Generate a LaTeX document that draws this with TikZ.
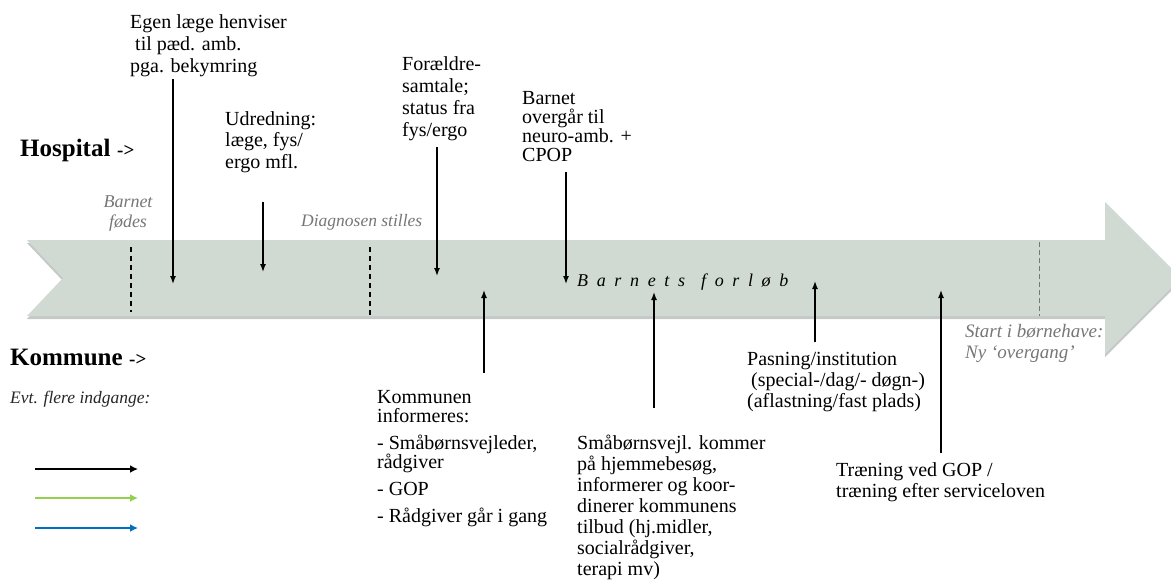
\documentclass[tikz,border=0pt]{standalone}
\usepackage{fontspec}
\setmainfont{Liberation Serif}
\usetikzlibrary{arrows.meta}
\definecolor{bandfill}{RGB}{208,218,210}
\definecolor{bandshadow}{RGB}{150,156,152}
\definecolor{graytext}{RGB}{118,118,118}
\definecolor{legendgreen}{RGB}{146,208,80}
\definecolor{legendblue}{RGB}{0,112,192}
\begin{document}
\begin{tikzpicture}[x=1pt,y=-1pt,
  txt/.style={anchor=base west, inner sep=0pt, align=left, font=\fontsize{20}{22}\selectfont},
  note/.style={anchor=base west, inner sep=0pt, align=left, text=graytext, font=\fontsize{17.5}{19.5}\selectfont\itshape},
  head/.style={anchor=base west, inner sep=0pt, font=\fontsize{25}{27}\selectfont\bfseries},
  headarrow/.style={anchor=base west, inner sep=0pt, font=\fontsize{19}{20}\selectfont\bfseries},
  ptr/.style={line width=1.4pt, -{Latex[length=8pt,width=6pt]}},
  legend/.style={line width=1.8pt, -{Latex[length=8pt,width=8pt]}},
  markline/.style={line width=1.3pt, dash pattern=on 5pt off 4pt},
  endline/.style={line width=0.9pt, draw=graytext, dash pattern=on 5pt off 3pt}
]
\useasboundingbox (0,0) rectangle (1171,586);
\clip (0,0) rectangle (1171,586);

% band (timeline arrow)
\fill[bandshadow, opacity=0.55] (27,243) -- (1105,243) -- (1105,205) -- (1181,281) -- (1105,357) -- (1105,319) -- (27,319) -- (63,281) -- cycle;
\fill[bandfill] (27,240) -- (1105,240) -- (1105,202) -- (1181,278) -- (1105,354) -- (1105,316) -- (27,316) -- (63,278) -- cycle;

% markers on the band
\draw[markline] (131,247) -- (131,312);
\draw[markline] (370,247) -- (370,316);
\draw[endline] (1039,242) -- (1039,316);

% headings
\node[head] (hosp) at (20,157) {Hospital};
\node[headarrow] (hosparr) at (117,157) {->};
\node[head] (komm) at (10,365) {Kommune};
\node[headarrow] (kommarr) at (129,365) {->};
\node[note, text=black!85] (evt) at (10,403) {Evt. flere indgange:};

% legend arrows
\coordinate (l1s) at (35,469); \coordinate (l1e) at (138,469);
\coordinate (l2s) at (35,498); \coordinate (l2e) at (138,498);
\coordinate (l3s) at (35,528); \coordinate (l3e) at (138,528);
\draw[legend, black] (l1s) -- (l1e);
\draw[legend, legendgreen] (l2s) -- (l2e);
\draw[legend, legendblue] (l3s) -- (l3e);

% gray notes (anchors at the baseline of the last line)
\node[note, anchor=base, align=center, font=\fontsize{18}{19.5}\selectfont\itshape] (fodes) at (128,227) {Barnet\\fødes};
\node[note] (diag) at (301,226) {Diagnosen stilles};
\node[note, font=\fontsize{19}{21}\selectfont\itshape] (start) at (965,358) {Start i børnehave:\\Ny ‘overgang’};

% band label
\node[anchor=base west, inner sep=0pt, font=\fontsize{18}{20}\selectfont\itshape\addfontfeature{LetterSpace=48}] (forlob) at (577,286) {Barnets\hspace{3pt} forløb};

% hospital texts
\node[txt] (egen) at (130,73) {Egen læge henviser\\\hspace*{5pt}til pæd. amb.\\pga. bekymring};
\node[txt, font=\fontsize{20}{21.5}\selectfont] (udred) at (225,168) {Udredning:\\læge, fys/\\ergo mfl.};
\node[txt] (foraeld) at (402,136) {Forældre-\\samtale;\\status fra\\fys/ergo};
\node[txt, font=\fontsize{20}{19}\selectfont] (overg) at (522,161) {Barnet\\overgår til\\neuro-amb. +\\CPOP};

% kommune texts
\node[txt, font=\fontsize{20}{19}\selectfont] (kinf) at (377,522) {Kommunen\\informeres:\\[8pt]- Småbørnsvejleder,\\rådgiver\\[8pt]- GOP\\[8pt]- Rådgiver går i gang};
\node[txt, font=\fontsize{20}{21}\selectfont] (smaa) at (577,575) {Småbørnsvejl. kommer\\på hjemmebesøg,\\informerer og koor-\\dinerer kommunens\\tilbud (hj.midler,\\socialrådgiver,\\terapi mv)};
\node[txt, font=\fontsize{20}{21}\selectfont] (pas) at (747,407) {Pasning/institution\\\hspace*{4pt}(special-/dag/- døgn-)\\(aflastning/fast plads)};
\node[txt, font=\fontsize{20}{20.5}\selectfont] (traen) at (836,497) {Træning ved GOP /\\træning efter serviceloven};

% arrow end points
\coordinate (a1s) at (173,79);  \coordinate (a1e) at (173,284);
\coordinate (a2s) at (263,202); \coordinate (a2e) at (263,272);
\coordinate (a3s) at (437,147); \coordinate (a3e) at (437,276);
\coordinate (a4s) at (566,172); \coordinate (a4e) at (566,284);
\coordinate (b1s) at (484,373); \coordinate (b1e) at (484,290);
\coordinate (b2s) at (654,408); \coordinate (b2e) at (654,292);
\coordinate (b3s) at (815,342); \coordinate (b3e) at (815,281);
\coordinate (b4s) at (941,453); \coordinate (b4e) at (941,290);

\draw[ptr] (a1s) -- (a1e);
\draw[ptr] (a2s) -- (a2e);
\draw[ptr] (a3s) -- (a3e);
\draw[ptr] (a4s) -- (a4e);
\draw[ptr] (b1s) -- (b1e);
\draw[ptr] (b2s) -- (b2e);
\draw[ptr] (b3s) -- (b3e);
\draw[ptr] (b4s) -- (b4e);
\end{tikzpicture}
\end{document}
